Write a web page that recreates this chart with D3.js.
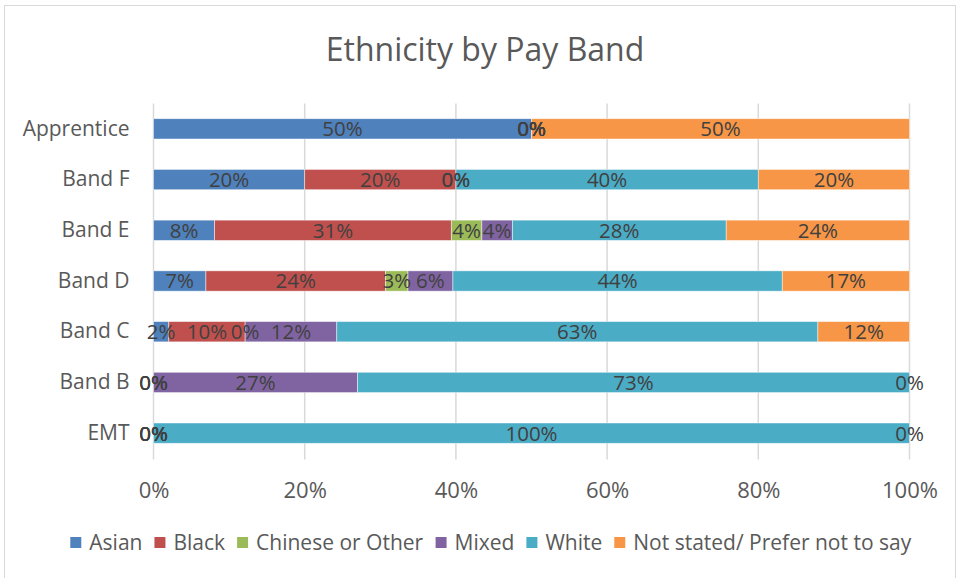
<!DOCTYPE html>
<html>
<head>
<meta charset="utf-8">
<script src="https://cdn.jsdelivr.net/npm/d3@7"></script>
<style>
  html, body { margin: 0; padding: 0; background: #fff; }
  svg { display: block; }
  text { font-family: "Open Sans", "Lato", sans-serif; }
</style>
</head>
<body>
<svg id="chart" width="957" height="578"></svg>
<script>
// Pay bands, top to bottom
const bands = ["Apprentice", "Band F", "Band E", "Band D", "Band C", "Band B", "EMT"];

// Ethnicity groups (stack order, left to right)
const groups = ["Asian", "Black", "Chinese or Other", "Mixed", "White", "Not stated/ Prefer not to say"];

// Percentage of each band in each group
const asian    = [50, 20,  8,  7,  2,  0,   0];
const black    = [ 0, 20, 31, 24, 10,  0,   0];
const chinese  = [ 0,  0,  4,  3,  0,  0,   0];
const mixed    = [ 0,  0,  4,  6, 12, 27,   0];
const white    = [ 0, 40, 28, 44, 63, 73, 100];
const notStated= [50, 20, 24, 17, 12,  0,   0];

const xTicks = [0, 0.2, 0.4, 0.6, 0.8, 1];

const colors = ["#4F81BD", "#C0504D", "#9BBB59", "#8064A2", "#4BACC6", "#F79646"];

const seriesValues = [asian, black, chinese, mixed, white, notStated];
const rows = bands.map((b, i) => {
  const r = { band: b };
  groups.forEach((g, j) => { r[g] = seriesValues[j][i]; });
  return r;
});

const svg = d3.select("#chart");
const W = 957, H = 578;

// chart frame
svg.append("rect")
  .attr("x", 4.5).attr("y", 5.5)
  .attr("width", W - 6).attr("height", H)
  .attr("fill", "#fff").attr("stroke", "#d9d9d9").attr("stroke-width", 1);

const margin = { left: 153.5, right: 47.5, top: 103.5, bottom: 119.5 };
const x = d3.scaleLinear().domain([0, 1]).range([margin.left, W - margin.right]);
const y = d3.scaleBand().domain(bands).range([margin.top, H - margin.bottom]).paddingInner(0.6).paddingOuter(0.3);

// title
svg.append("text")
  .attr("x", 485).attr("y", 61)
  .attr("text-anchor", "middle")
  .attr("font-size", 32)
  .attr("fill", "#595959")
  .text("Ethnicity by Pay Band");

// vertical gridlines
svg.append("g")
  .selectAll("line")
  .data(xTicks)
  .join("line")
  .attr("x1", d => x(d)).attr("x2", d => x(d))
  .attr("y1", margin.top).attr("y2", H - margin.bottom + 1)
  .attr("stroke", "#d9d9d9").attr("stroke-width", 1.5);

// stacked bars (normalised to 100%)
const stack = d3.stack().keys(groups).offset(d3.stackOffsetExpand);
const series = stack(rows);

const layer = svg.append("g")
  .selectAll("g")
  .data(series)
  .join("g")
  .attr("fill", (d, i) => colors[i]);

layer.selectAll("rect")
  .data(d => d)
  .join("rect")
  .attr("x", d => x(d[0]))
  .attr("y", d => y(d.data.band))
  .attr("width", d => x(d[1]) - x(d[0]))
  .attr("height", y.bandwidth())
  .attr("stroke", "#ffffff")
  .attr("stroke-opacity", 0.6)
  .attr("stroke-width", 0.75);

// data labels
const labels = svg.append("g");
series.forEach(s => {
  labels.selectAll(null)
    .data(s)
    .join("text")
    .attr("x", d => (x(d[0]) + x(d[1])) / 2)
    .attr("y", d => y(d.data.band) + y.bandwidth() / 2)
    .attr("dy", "0.36em")
    .attr("text-anchor", "middle")
    .attr("font-size", 20.5)
    .attr("fill", "#404040")
    .text(d => d.data[s.key] + "%");
});

// category axis
const yAxis = svg.append("g")
  .attr("transform", `translate(${margin.left},0)`)
  .call(d3.axisLeft(y).tickSize(0).tickPadding(24));
yAxis.select(".domain").remove();
yAxis.selectAll("text")
  .attr("font-size", 21)
  .attr("fill", "#595959")
  .style("font-family", "'Open Sans', sans-serif");

// value axis
const xAxis = svg.append("g")
  .attr("transform", `translate(0,${H - margin.bottom})`)
  .call(d3.axisBottom(x).tickValues(xTicks).tickFormat(d3.format(".0%")).tickSize(0).tickPadding(24));
xAxis.select(".domain").remove();
xAxis.selectAll("text")
  .attr("font-size", 22)
  .attr("fill", "#595959")
  .style("font-family", "'Open Sans', sans-serif");

// legend
const legend = svg.append("g").attr("transform", "translate(0,543)");
const legItems = legend.selectAll("g")
  .data(groups)
  .join("g");
legItems.append("rect")
  .attr("width", 11).attr("height", 11)
  .attr("y", -6)
  .attr("fill", (d, i) => colors[i]);
legItems.append("text")
  .attr("x", 19)
  .attr("dy", "0.35em")
  .attr("font-size", 21)
  .attr("fill", "#595959")
  .text(d => d);

// lay out legend entries in a centred row
const widths = [];
legItems.each(function () {
  widths.push(this.getBBox().width);
});
const gap = 12;
const total = d3.sum(widths) + gap * (widths.length - 1);
let cx = 491 - total / 2;
legItems.attr("transform", (d, i) => {
  const t = `translate(${cx},0)`;
  cx += widths[i] + gap;
  return t;
});
</script>
</body>
</html>
